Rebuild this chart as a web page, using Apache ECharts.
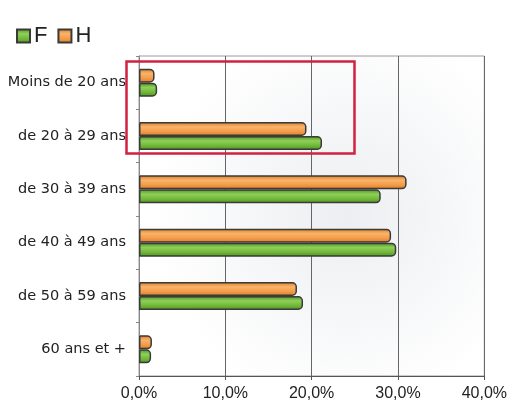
<!DOCTYPE html>
<html><head><meta charset="utf-8">
<script src="https://cdn.jsdelivr.net/npm/echarts@6/dist/echarts.min.js"></script>
<style>html,body{margin:0;padding:0;background:#fff}#c{width:510px;height:403px}</style>
</head><body><div id="c"></div>
<script>
const categories = ['Moins de 20 ans','de 20 à 29 ans','de 30 à 39 ans','de 40 à 49 ans','de 50 à 59 ans','60 ans et +'];
const valuesF = [2.1, 21.2, 28.0, 29.8, 19.0, 1.4];
const valuesH = [1.8, 19.4, 31.0, 29.2, 18.3, 1.5];
const xTicks = [0, 10, 20, 30, 40];

const chart = echarts.init(document.getElementById('c'));
function grad(dark, mid, light){
  return new echarts.graphic.LinearGradient(0,0,0,1,[
    {offset:0,color:dark},{offset:0.35,color:light},{offset:0.7,color:mid},{offset:1,color:dark}]);
}
chart.setOption({
  animation:false,
  backgroundColor:'#fff',
  legend:{left:11,top:20,itemWidth:13,itemHeight:13,itemGap:10,icon:'rect',
    data:['F','H'],
    textStyle:{fontFamily:'Liberation Sans',fontSize:22,color:'#222',padding:[0,0,0,-1]}},
  grid:{left:139,right:23,top:56,bottom:27,show:true,borderColor:'#9a9a9a',borderWidth:1,
    backgroundColor:new echarts.graphic.RadialGradient(0.6,0.5,0.6,[
      {offset:0,color:'#eceef1'},{offset:1,color:'#ffffff'}])},
  xAxis:{type:'value',min:xTicks[0],max:xTicks[xTicks.length-1],interval:10,
    axisLine:{show:true,lineStyle:{color:'#555'}},
    axisTick:{show:true,length:4,lineStyle:{color:'#555'}},
    splitLine:{show:true,lineStyle:{color:'#666',width:1}},
    axisLabel:{formatter:v=>v.toFixed(1).replace('.',',')+'%',fontFamily:'Liberation Sans',fontSize:16,color:'#222',margin:10}},
  yAxis:{type:'category',data:categories,inverse:true,
    axisLine:{show:true,lineStyle:{color:'#888'}},
    axisTick:{show:true,length:3,lineStyle:{color:'#888'}},
    axisLabel:{fontFamily:'DejaVu Sans',fontSize:14.5,color:'#222',margin:13}},
  series:[
    {name:'H',type:'bar',data:valuesH,barWidth:14,barGap:'0%',
      itemStyle:{color:grad('#d97a26','#f29a45','#f9b46a'),borderColor:'#3a3a3a',borderWidth:1.5,borderRadius:[0,4,4,0]}},
    {name:'F',type:'bar',data:valuesF,barWidth:14,barGap:'0%',
      itemStyle:{color:grad('#4f8f22','#6fb638','#8fd058'),borderColor:'#3a3a3a',borderWidth:1.5,borderRadius:[0,4,4,0]}}
  ],
  graphic:[{type:'rect',left:124,top:59,shape:{width:228,height:92},
    style:{fill:'none',stroke:'#d42040',lineWidth:2.5},z:100}]
});
</script></body></html>
